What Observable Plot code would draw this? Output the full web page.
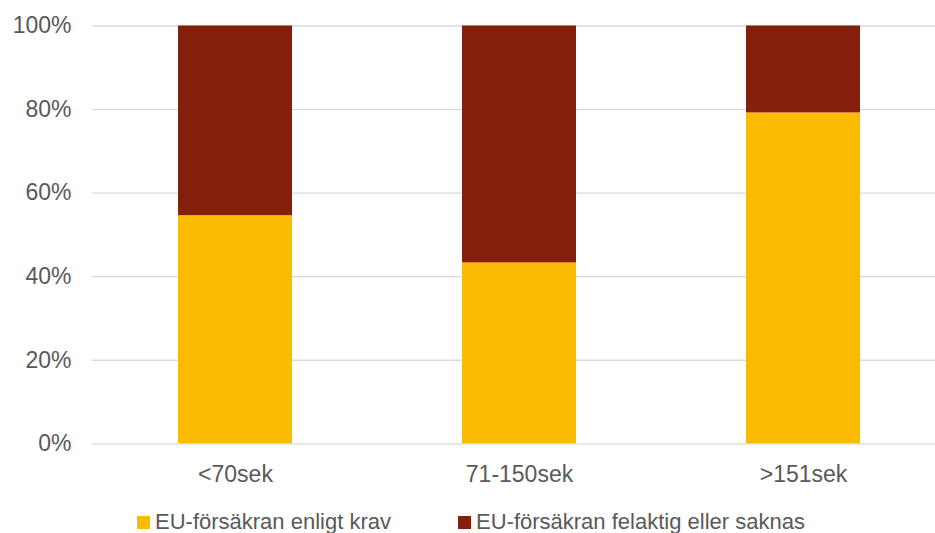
<!DOCTYPE html>
<html>
<head>
<meta charset="utf-8">
<script src="https://cdn.jsdelivr.net/npm/d3@7"></script>
<script src="https://cdn.jsdelivr.net/npm/@observablehq/plot@0.6"></script>
<style>
  html, body { margin: 0; padding: 0; background: #fff; overflow: hidden; width: 935px; height: 533px; }
  #chart { position: relative; width: 935px; overflow: hidden; height: 500px; }
  #chart svg { max-width: none !important; display: block; }
  .legend { position: relative; height: 24px; margin-top: 10px; font-family: "Liberation Sans", Arial, sans-serif; font-size: 22px; line-height: 24px; color: #595959; white-space: nowrap; }
  .item { position: absolute; top: 0; }
  .sw { display: inline-block; width: 13px; height: 13px; margin-right: 5px; vertical-align: baseline; }
</style>
</head>
<body>
<div id="chart"></div>
<script>
const categories = ["<70sek", "71-150sek", ">151sek"];
const series = ["EU-försäkran enligt krav", "EU-försäkran felaktig eller saknas"];
const compliant = [54.6, 43.3, 79.2];
const nonCompliant = [45.4, 56.7, 20.8];
const yTicks = [0, 20, 40, 60, 80, 100];
const colors = ["#FBBB00", "#841F0B"];

const data = [];
categories.forEach((c, i) => {
  data.push({cat: c, series: series[0], value: compliant[i]});
  data.push({cat: c, series: series[1], value: nonCompliant[i]});
});

const plot = Plot.plot({
  width: 946,
  height: 500,
  marginTop: 25.5,
  marginBottom: 56.7,
  marginLeft: 92,
  marginRight: 0,
  style: {fontFamily: "'Liberation Sans', Arial, sans-serif", fontSize: "23px", color: "#595959", background: "#fff", maxWidth: "none"},
  x: {domain: categories, paddingInner: 0.6, paddingOuter: 0.3, label: null, tickSize: 0, tickPadding: 22},
  y: {domain: [0, 100], ticks: yTicks, tickFormat: d => d + "%", label: null, tickSize: 0, tickPadding: 21},
  color: {domain: series, range: colors},
  marks: [
    Plot.ruleY(yTicks, {stroke: "#d9d9d9", strokeWidth: 1.3}),
    Plot.barY(data, {x: "cat", y: "value", fill: "series", order: series})
  ]
});
document.getElementById("chart").appendChild(plot);

const legend = document.createElement("div");
legend.className = "legend";
const lefts = [137, 458];
series.forEach((s, i) => {
  const it = document.createElement("span");
  it.className = "item";
  it.style.left = lefts[i] + "px";
  const sw = document.createElement("span");
  sw.className = "sw";
  sw.style.background = colors[i];
  it.appendChild(sw);
  it.appendChild(document.createTextNode(s));
  legend.appendChild(it);
});
document.body.appendChild(legend);
</script>
</body>
</html>
